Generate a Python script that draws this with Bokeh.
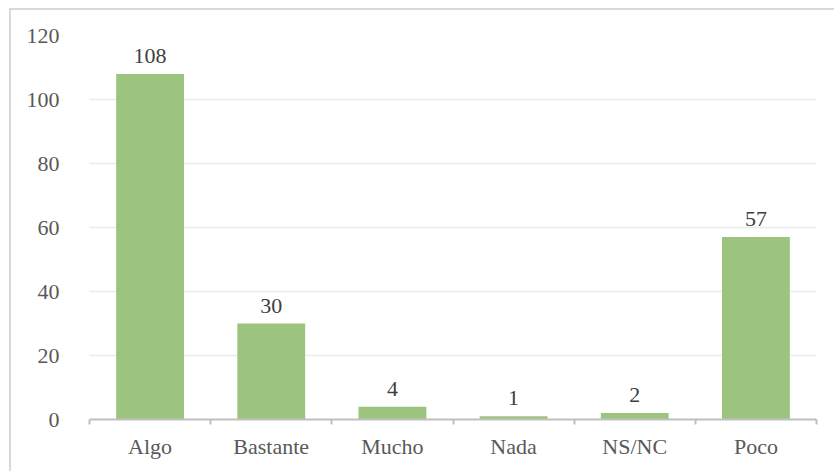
import numpy as np
from bokeh.plotting import figure
from bokeh.models import ColumnDataSource, FixedTicker, Range1d
from bokeh.core.properties import value
from bokeh.embed import file_html
from bokeh.resources import INLINE

# Survey answers and their counts
categories = ["Algo", "Bastante", "Mucho", "Nada", "NS/NC", "Poco"]
counts = [108, 30, 4, 1, 2, 57]
y_ticks = [0, 20, 40, 60, 80, 100, 120]

FONT = "Liberation Serif"
BAR_COLOR = "#9CC47E"

pos = np.arange(len(categories)) + 0.5
source = ColumnDataSource(dict(x=pos, count=counts, label=[str(c) for c in counts]))

p = figure(
    width=825, height=463,
    x_range=Range1d(0, len(categories)),
    y_range=Range1d(0, 120),
    output_backend="svg", toolbar_location=None,
    min_border_left=78, min_border_right=20,
    min_border_top=25, min_border_bottom=54,
)
p.styles = {
    "border-top": "2px solid #D9D9D9",
    "border-left": "2px solid #D9D9D9",
    "margin-top": "8px",
    "margin-left": "9px",
}
p.outline_line_color = None
p.background_fill_color = "white"
p.border_fill_color = "white"

p.vbar(x="x", top="count", width=0.56, source=source,
       fill_color=BAR_COLOR, line_color=None)

p.text(x="x", y="count", text="label", source=source,
       text_align="center", text_baseline="bottom", y_offset=-11,
       text_font=value(FONT), text_font_size="22px", text_color="#404040")

# Horizontal gridlines only
p.xgrid.grid_line_color = None
p.ygrid.grid_line_color = "#EBEBEB"
p.ygrid.grid_line_width = 1.5

# Y axis: labels only
p.yaxis.ticker = FixedTicker(ticks=y_ticks)
p.yaxis.axis_line_color = None
p.yaxis.major_tick_line_color = None
p.yaxis.minor_tick_line_color = None
p.yaxis.major_label_standoff = 24
p.yaxis.major_label_text_font = FONT
p.yaxis.major_label_text_font_size = "22px"
p.yaxis.major_label_text_color = "#595959"

# X axis: labels centred under bars, tick marks at category boundaries
p.xaxis.ticker = FixedTicker(ticks=list(pos), minor_ticks=list(range(len(categories) + 1)))
p.xaxis.major_label_overrides = {float(x): c for x, c in zip(pos, categories)}
p.xaxis.axis_line_color = "#BFBFBF"
p.xaxis.axis_line_width = 2
p.xaxis.major_tick_line_color = None
p.xaxis.minor_tick_line_color = "#BFBFBF"
p.xaxis.minor_tick_line_width = 2
p.xaxis.minor_tick_out = 5
p.xaxis.minor_tick_in = 0
p.xaxis.major_label_standoff = 8
p.xaxis.major_label_text_font = FONT
p.xaxis.major_label_text_font_size = "22px"
p.xaxis.major_label_text_color = "#595959"

open("out.html", "w").write(file_html(p, INLINE))
